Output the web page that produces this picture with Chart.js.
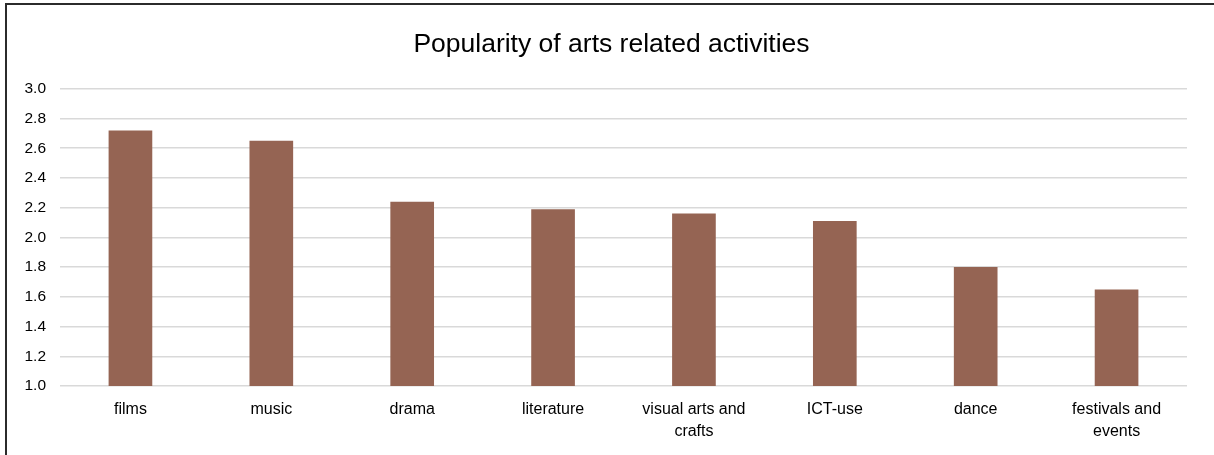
<!DOCTYPE html>
<html>
<head>
<meta charset="utf-8">
<title>Popularity of arts related activities</title>
<script src="https://cdn.jsdelivr.net/npm/chart.js@4"></script>
<style>
  html, body { margin: 0; padding: 0; background: #fff; }
  #wrap { position: relative; width: 1214px; height: 455px; overflow: hidden; }
  #frame {
    position: absolute; left: 5px; top: 3px; right: -10px; bottom: -10px;
    border-left: 2px solid #2b2b2b; border-top: 2px solid #2b2b2b;
    pointer-events: none;
  }
</style>
</head>
<body>
<div id="wrap">
  <canvas id="myChart" width="1214" height="455"></canvas>
  <div id="frame"></div>
</div>
<script>
const activities = ['films', 'music', 'drama', 'literature', ['visual arts and', 'crafts'], 'ICT-use', 'dance', ['festivals and', 'events']];
const popularity = [2.72, 2.65, 2.24, 2.19, 2.16, 2.11, 1.80, 1.65];
const yTicks = [1.0, 1.2, 1.4, 1.6, 1.8, 2.0, 2.2, 2.4, 2.6, 2.8, 3.0];

const font = 'Arial, "Liberation Sans", sans-serif';

function createBarChart() {
  var ctx = document.getElementById('myChart').getContext('2d');
  var myChart = new Chart(ctx, {
    type: 'bar',
    data: {
      labels: activities,
      datasets: [{
        label: 'Popularity',
        data: popularity,
        backgroundColor: '#956453',
        borderWidth: 0,
        categoryPercentage: 1,
        barPercentage: 0.31
      }]
    },
    options: {
      responsive: false,
      animation: false,
      layout: { padding: { left: 9, right: 0, top: 0, bottom: 0 } },
      plugins: {
        legend: { display: false },
        tooltip: { enabled: false },
        title: {
          display: true,
          text: 'Popularity of arts related activities',
          color: '#000',
          font: { family: font, size: 26.5, weight: 'normal' },
          padding: { top: 29, bottom: 28 }
        }
      },
      scales: {
        x: {
          grid: { display: false, drawTicks: false },
          border: { display: false },
          ticks: {
            color: '#000',
            font: { family: font, size: 16, lineHeight: 1.35 },
            padding: 13,
            maxRotation: 0,
            autoSkip: false
          },
          afterFit: function (scale) { scale.height = 69; }
        },
        y: {
          min: 1.0,
          max: 3.0,
          grid: { color: '#d9d9d9', lineWidth: 1.5, drawTicks: false },
          border: { display: false },
          afterBuildTicks: function (scale) {
            scale.ticks = yTicks.map(v => ({ value: v }));
          },
          ticks: {
            color: '#000',
            font: { family: font, size: 15.5 },
            padding: 14,
            callback: v => v.toFixed(1)
          },
          afterFit: function (scale) { scale.width = 51; }
        },
        // empty strip on the right so the title stays centred on the page
        yRight: {
          position: 'right',
          min: 1.0,
          max: 3.0,
          grid: { display: false, drawTicks: false },
          border: { display: false },
          ticks: { display: false },
          afterFit: function (scale) { scale.width = 27; }
        }
      }
    }
  });
}

createBarChart();
</script>
</body>
</html>
